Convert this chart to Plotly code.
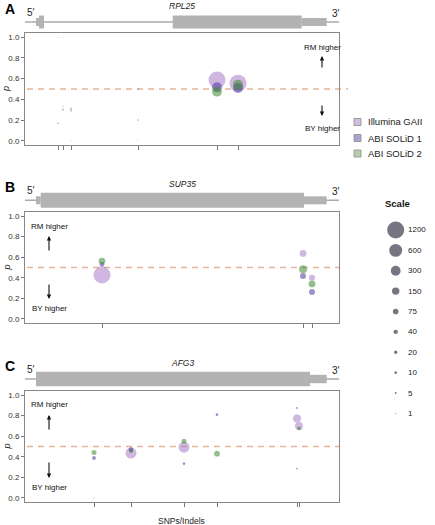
import plotly.graph_objects as go

W, H = 435, 525
FONT = "Arial, Liberation Sans, sans-serif"

# ---------------- data ----------------
platforms = ["Illumina GAII", "ABI SOLiD 1", "ABI SOLiD 2"]
scale_counts = [1200, 600, 300, 150, 75, 40, 20, 10, 5, 1]
p_ticks = [0.0, 0.2, 0.4, 0.6, 0.8, 1.0]

# Panel A: RPL25
A_snp_pos = [33, 38, 46, 113, 192, 213]
A_ill_x = [192, 213, 33, 38, 46, 113]
A_ill_p = [0.587, 0.555, 1.0, 1.0, 0.0, 0.0]
A_ill_n = [1200, 1200, 1, 1, 1, 1]
A_s1_x = [192, 213, 33, 38, 46, 113]
A_s1_p = [0.516, 0.51, 0.17, 0.33, 0.29, 0.5]
A_s1_n = [320, 320, 2, 1, 3, 2]
A_s2_x = [192, 213, 38, 46, 113]
A_s2_p = [0.474, 0.54, 0.30, 0.31, 0.2]
A_s2_n = [300, 320, 4, 5, 3]

# Panel B: SUP35
B_snp_pos = [77, 278, 287]
B_ill_x = [77, 278, 287]
B_ill_p = [0.427, 0.637, 0.40]
B_ill_n = [1200, 120, 90]
B_s1_x = [77, 278, 287]
B_s1_p = [0.53, 0.417, 0.262]
B_s1_n = [50, 90, 90]
B_s2_x = [77, 278, 287]
B_s2_p = [0.563, 0.482, 0.34]
B_s2_n = [120, 180, 120]

# Panel C: AFG3
C_snp_pos = [69, 106, 159, 192, 272, 274]
C_ill_x = [106, 159, 272, 274]
C_ill_p = [0.436, 0.493, 0.772, 0.70]
C_ill_n = [400, 400, 180, 180]
C_s1_x = [69, 106, 159, 192, 272, 272, 69]
C_s1_p = [0.388, 0.47, 0.333, 0.81, 0.875, 0.285, 0.0]
C_s1_n = [30, 50, 12, 12, 5, 5, 1]
C_s2_x = [69, 106, 159, 192, 274]
C_s2_p = [0.442, 0.455, 0.55, 0.43, 0.676]
C_s2_n = [56, 30, 56, 80, 30]

# gene models (start, end, kind) in the same position units
A_gene = [(11, 14, "utr"), (14, 19, "cds"), (147.7, 276.7, "cds"), (276.7, 301.7, "utr")]
B_gene = [(11, 15.7, "utr"), (15.7, 279, "cds"), (279, 301.7, "utr")]
C_gene = [(11, 285, "cds"), (285, 301.7, "utr")]

# ---------------- style ----------------
colors = ["#a77bc9", "#4a3a9e", "#3d8a2e"]
legend_fill = ["#d4bfe3", "#a9a3d3", "#b5d0ab"]
XMAX = 314

panels = [
    dict(label="A", gene="RPL25", top=33, bottom=145, gy=22, thick=6.5, thin=4,
         snps=A_snp_pos, model=A_gene,
         data=[(A_ill_x, A_ill_p, A_ill_n), (A_s1_x, A_s1_p, A_s1_n), (A_s2_x, A_s2_p, A_s2_n)],
         ann_x=322, rm=47, up=(56, 69), down=(104, 116), by=128, dash_end=348),
    dict(label="B", gene="SUP35", top=212, bottom=323, gy=200.3, thick=7.5, thin=4,
         snps=B_snp_pos, model=B_gene,
         data=[(B_ill_x, B_ill_p, B_ill_n), (B_s1_x, B_s1_p, B_s1_n), (B_s2_x, B_s2_p, B_s2_n)],
         ann_x=49, rm=226, up=(236, 252), down=(283, 299), by=308, dash_end=339),
    dict(label="C", gene="AFG3", top=391, bottom=502, gy=379, thick=7.2, thin=4.2,
         snps=C_snp_pos, model=C_gene,
         data=[(C_ill_x, C_ill_p, C_ill_n), (C_s1_x, C_s1_p, C_s1_n), (C_s2_x, C_s2_p, C_s2_n)],
         ann_x=49, rm=404, up=(415, 431), down=(461, 478), by=487, dash_end=339),
]

def fx(px):
    return px / W

def fy(py):
    return 1 - py / H

def txt(text, x, y, size, xanchor="center", color="#222", **kw):
    return dict(text=text, x=fx(x), y=fy(y), xref="paper", yref="paper", showarrow=False,
                xanchor=xanchor, yanchor="middle", font=dict(size=size, family=FONT, color=color), **kw)

fig = go.Figure()
shapes = []
annotations = []
PL, PR = 25, 339

for i, pan in enumerate(panels):
    k = "" if i == 0 else str(i + 1)
    xa, ya = "x" + k, "y" + k
    for j, (xs, ps, ns) in enumerate(pan["data"]):
        fig.add_trace(go.Scatter(
            x=xs, y=ps, mode="markers", xaxis=xa, yaxis=ya, showlegend=False,
            name=platforms[j],
            marker=dict(size=[n ** 0.4 for n in ns], color=colors[j], opacity=0.55,
                        line=dict(width=0)),
        ))
    ycfg = dict(domain=[fy(pan["bottom"]), fy(pan["top"])], range=[-0.04, 1.04],
                tickvals=p_ticks, ticktext=["%.1f" % v for v in p_ticks],
                ticks="outside", ticklen=3, tickcolor="#777", tickwidth=1,
                tickfont=dict(size=8, color="#333", family=FONT),
                showgrid=False, zeroline=False, showline=True, linecolor="#888",
                linewidth=1, mirror=True, anchor=xa, fixedrange=True)
    xcfg = dict(domain=[fx(PL), fx(PR)], range=[0, XMAX], tickvals=pan["snps"],
                showticklabels=False, ticks="outside", ticklen=4, tickcolor="#777",
                tickwidth=1, showgrid=False, zeroline=False, showline=True,
                linecolor="#888", linewidth=1, mirror=True, anchor=ya, fixedrange=True)
    fig.update_layout(**{"xaxis" + k: xcfg, "yaxis" + k: ycfg})

    # dashed p=0.5 line
    y05 = fy(pan["bottom"]) + (0.5 + 0.04) / 1.08 * (fy(pan["top"]) - fy(pan["bottom"]))
    shapes.append(dict(type="line", xref="paper", yref="paper", x0=fx(PL + 2), x1=fx(pan["dash_end"]),
                       y0=y05, y1=y05, line=dict(color="#e8b497", width=1.5, dash="6px,5px"), layer="below"))

    # gene model
    gy = pan["gy"]
    shapes.append(dict(type="line", xref=xa, yref="paper", x0=0, x1=XMAX, y0=fy(gy), y1=fy(gy),
                       line=dict(color="#aaaaaa", width=1.5)))
    for (s, e, kind) in pan["model"]:
        hh = pan["thick"] if kind == "cds" else pan["thin"]
        shapes.append(dict(type="rect", xref=xa, yref="paper", x0=s, x1=e,
                           y0=fy(gy + hh), y1=fy(gy - hh), fillcolor="#b3b3b3",
                           line=dict(width=0)))
    annotations += [
        txt("<b>%s</b>" % pan["label"], 3, gy - 13, 14, xanchor="left", color="black"),
        txt("5′", 25, gy - 10, 10, xanchor="left"),
        txt("3′", 336, gy - 9, 10),
        txt("<i>%s</i>" % pan["gene"], 182, gy - 16, 8.5),
        txt("<i>p</i>", 6, (pan["top"] + pan["bottom"]) / 2, 9, textangle=-90),
        txt("RM higher", pan["ann_x"], pan["rm"], 8, color="#111"),
        txt("BY higher", pan["ann_x"], pan["by"], 8, color="#111"),
        dict(text="", x=fx(pan["ann_x"]), y=fy(pan["up"][0]), xref="paper", yref="paper",
             showarrow=True, ax=0, ay=pan["up"][1] - pan["up"][0], arrowhead=2, arrowsize=0.8,
             arrowwidth=1.1, arrowcolor="#111"),
        dict(text="", x=fx(pan["ann_x"]), y=fy(pan["down"][1]), xref="paper", yref="paper",
             showarrow=True, ax=0, ay=pan["down"][0] - pan["down"][1], arrowhead=2, arrowsize=0.8,
             arrowwidth=1.1, arrowcolor="#111"),
    ]

annotations.append(txt("SNPs/Indels", 181, 521, 8.5))

# platform legend
for j, name in enumerate(platforms):
    cy = [122, 138, 153.5][j]
    shapes.append(dict(type="rect", xref="paper", yref="paper", x0=fx(354), x1=fx(361),
                       y0=fy(cy + 3.5), y1=fy(cy - 3.5), fillcolor=legend_fill[j],
                       line=dict(color="#8a8a8a", width=0.8)))
    annotations.append(txt(name, 366, cy, 9.5, xanchor="left"))

# scale legend (own axis)
idx = list(range(len(scale_counts)))
fig.add_trace(go.Scatter(
    x=[395.7] * len(scale_counts), y=idx, mode="markers", xaxis="x4", yaxis="y4",
    showlegend=False, marker=dict(size=[c ** 0.4 for c in scale_counts], color="#3c3b4d",
                                  line=dict(width=0)), hoverinfo="skip"))
fig.update_layout(
    xaxis4=dict(domain=[fx(380), 1], range=[380, 435], visible=False, anchor="y4", fixedrange=True),
    yaxis4=dict(domain=[fy(425), fy(220)], range=[9.57, -0.49], visible=False, anchor="x4", fixedrange=True),
)
for i_, c in enumerate(scale_counts):
    annotations.append(dict(text=str(c), x=406, y=i_, xref="x4", yref="y4", showarrow=False,
                            xanchor="left", yanchor="middle", font=dict(size=8, family=FONT, color="#222")))
annotations.append(txt("<b>Scale</b>", 383, 203, 9.5, xanchor="left", color="#111"))

fig.update_layout(width=W, height=H, margin=dict(l=0, r=0, t=0, b=0),
                  paper_bgcolor="white", plot_bgcolor="white",
                  shapes=shapes, annotations=annotations, showlegend=False)
fig.write_html("out.html", config={"displayModeBar": False},
               post_script="document.body.style.margin='0';document.body.style.overflow='hidden';")
